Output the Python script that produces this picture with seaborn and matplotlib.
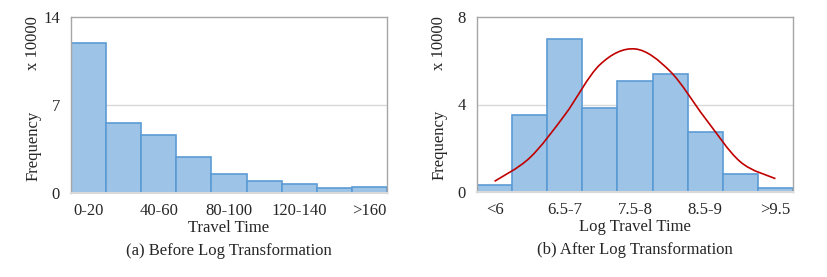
"""Travel time histograms before and after log transformation."""

import numpy as np
import pandas as pd
import matplotlib
matplotlib.use('Agg')
import matplotlib.pyplot as plt
from matplotlib.path import Path
from matplotlib.patches import PathPatch
import seaborn as sns

########
# Data #
########
# Frequencies in units of 10000
raw_bins = ['0-20', '20-40', '40-60', '60-80', '80-100',
            '100-120', '120-140', '140-160', '>160']
raw_freq = [11.9, 5.6, 4.6, 2.87, 1.52, 0.98, 0.69, 0.37, 0.48]
raw_ticks = [0, 7, 14]

log_bins = ['<6', '6-6.5', '6.5-7', '7-7.5', '7.5-8',
            '8-8.5', '8.5-9', '9-9.5', '>9.5']
log_freq = [0.32, 3.51, 7.01, 3.82, 5.08, 5.38, 2.74, 0.84, 0.17]
log_fit = [0.49, 1.56, 3.52, 5.82, 6.54, 5.52, 3.37, 1.38, 0.61]
log_ticks = [0, 4, 8]

#########
# Style #
#########
sns.set_style('white')
plt.rcParams['font.family'] = ['Liberation Serif', 'DejaVu Serif']
fill_color = '#9DC3E6'
edge_color = '#5B9BD5'
fit_color = '#C00000'
fs = 12


def smooth_path(xs, ys):
    # Catmull-Rom style bezier through the points, like a smoothed line
    xs = np.asarray(xs, float)
    ys = np.asarray(ys, float)
    n = len(xs)
    verts = [(xs[0], ys[0])]
    codes = [Path.MOVETO]
    for i in range(n - 1):
        x0, y0 = (xs[i - 1], ys[i - 1]) if i > 0 else (xs[i], ys[i])
        x3, y3 = (xs[i + 2], ys[i + 2]) if i + 2 < n else (xs[i + 1], ys[i + 1])
        c1 = (xs[i] + (xs[i + 1] - x0) / 6, ys[i] + (ys[i + 1] - y0) / 6)
        c2 = (xs[i + 1] - (x3 - xs[i]) / 6, ys[i + 1] - (y3 - ys[i]) / 6)
        verts += [c1, c2, (xs[i + 1], ys[i + 1])]
        codes += [Path.CURVE4] * 3
    return Path(verts, codes)


def draw_panel(ax, bins, freq, ticks, xlabel, caption, shown):
    df = pd.DataFrame({'bin': bins, 'freq': freq})
    sns.barplot(data=df, x='bin', y='freq', ax=ax, width=1.0,
                color=fill_color, edgecolor=edge_color, linewidth=1.2,
                saturation=1)
    ax.set_xlim(-0.5, len(bins) - 0.5)
    ax.set_ylim(ticks[0], ticks[-1])
    ax.set_yticks(ticks)
    ax.set_yticklabels([str(t) for t in ticks], fontsize=fs)
    ax.axhline(ticks[1], color='#D9D9D9', lw=1, zorder=0)
    ax.set_xticks(shown)
    ax.set_xticklabels([bins[i] for i in shown], fontsize=fs)
    ax.tick_params(axis='x', length=0, pad=7)
    ax.tick_params(axis='y', length=0, pad=8)
    ax.set_xlabel(xlabel, fontsize=fs, labelpad=1)
    ax.set_ylabel('')
    for s in ['top', 'right', 'left']:
        ax.spines[s].set_color('#A6A6A6')
        ax.spines[s].set_linewidth(1)
    ax.spines['bottom'].set_color('#D9D9D9')
    ax.spines['bottom'].set_linewidth(1.5)
    ax.text(-0.12, 0.27, 'Frequency', transform=ax.transAxes,
            rotation=90, ha='center', va='center', fontsize=fs)
    ax.text(-0.12, 0.85, 'x 10000', transform=ax.transAxes,
            rotation=90, ha='center', va='center', fontsize=fs)
    ax.text(0.5, -0.33, caption, transform=ax.transAxes,
            ha='center', va='center', fontsize=fs)


fig = plt.figure(figsize=(8.27, 2.77), dpi=100)
ax1 = fig.add_axes([71 / 827, 1 - 193 / 277, 316 / 827, 176 / 277])
ax2 = fig.add_axes([477 / 827, 1 - 192 / 277, 316 / 827, 175 / 277])

draw_panel(ax1, raw_bins, raw_freq, raw_ticks, 'Travel Time',
           '(a) Before Log Transformation', [0, 2, 4, 6, 8])
draw_panel(ax2, log_bins, log_freq, log_ticks, 'Log Travel Time',
           '(b) After Log Transformation', [0, 2, 4, 6, 8])

# Fitted curve over the log histogram
ax2.add_patch(PathPatch(smooth_path(range(len(log_fit)), log_fit),
                        facecolor='none', edgecolor=fit_color, lw=1.2,
                        zorder=5))

fig.savefig('out.png', dpi=100)
